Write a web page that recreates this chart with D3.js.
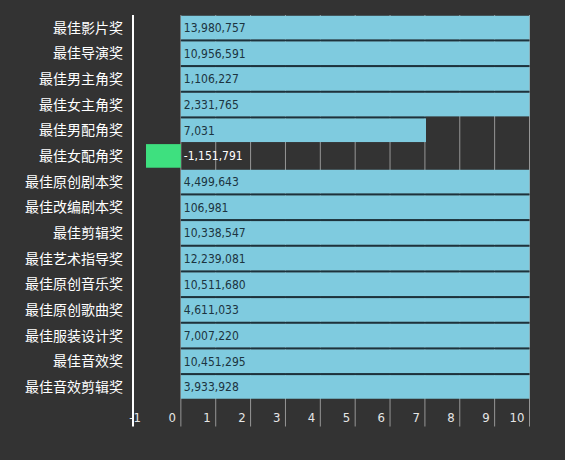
<!DOCTYPE html>
<html>
<head>
<meta charset="utf-8">
<script src="https://cdn.jsdelivr.net/npm/d3@7"></script>
<style>
  body { margin: 0; background: #333333; }
</style>
</head>
<body>
<script>
// award categories and their values (axis is in thousands)
var categories = ["最佳影片奖", "最佳导演奖", "最佳男主角奖", "最佳女主角奖", "最佳男配角奖",
  "最佳女配角奖", "最佳原创剧本奖", "最佳改编剧本奖", "最佳剪辑奖", "最佳艺术指导奖",
  "最佳原创音乐奖", "最佳原创歌曲奖", "最佳服装设计奖", "最佳音效奖", "最佳音效剪辑奖"];
var values = [13980757, 10956591, 1106227, 2331765, 7031, -1151791, 4499643, 106981,
  10338547, 12239081, 10511680, 4611033, 7007220, 10451295, 3933928];
var valueLabels = ["13,980,757", "10,956,591", "1,106,227", "2,331,765", "7,031", "-1,151,791",
  "4,499,643", "106,981", "10,338,547", "12,239,081", "10,511,680", "4,611,033",
  "7,007,220", "10,451,295", "3,933,928"];
var xTicks = [-1, 0, 1, 2, 3, 4, 5, 6, 7, 8, 9, 10];

var data = categories.map(function(c, i) {
  return {name: c, value: values[i], label: valueLabels[i]};
});

// set the dimensions and margins of the graph
var margin = {top: 15, right: 35.5, bottom: 60.5, left: 146},
width = 565 - margin.left - margin.right,
height = 460 - margin.top - margin.bottom;

var x = d3.scaleLinear()
.domain([-1, 10])
.range([0, width])
.clamp(true);

var y = d3.scaleBand()
.domain(categories)
.range([0, height])
.paddingInner(0.08)
.paddingOuter(0.03);

var svg = d3.select("body").append("svg")
.attr("width", 565)
.attr("height", 460)
.append("g")
.attr("transform", "translate(" + margin.left + "," + margin.top + ")");

// grid lines behind the bars
svg.selectAll(".grid")
.data(xTicks.filter(function(t) { return t >= 0; }))
.enter().append("line")
.attr("x1", function(d) { return x(d); })
.attr("x2", function(d) { return x(d); })
.attr("y1", 0)
.attr("y2", height + 27)
.attr("stroke", "#969696")
.attr("stroke-width", 1);

function barEnd(d) { return x(Math.max(0, d.value / 1000)); }

// dark separators between neighbouring positive bars
svg.selectAll(".sep")
.data(data.slice(1).filter(function(d, i) { return d.value > 0 && data[i].value > 0; }))
.enter().append("rect")
.attr("x", x(0))
.attr("y", function(d) { return y(d.name) - y.step() * y.paddingInner(); })
.attr("width", function(d) {
  var prev = data[categories.indexOf(d.name) - 1];
  return Math.min(barEnd(d), barEnd(prev)) - x(0);
})
.attr("height", y.step() * y.paddingInner())
.attr("fill", "#1d323c");

// bars (values in thousands on the axis)
svg.selectAll(".bar")
.data(data)
.enter().append("rect")
.attr("class", "bar")
.attr("x", function(d) { return x(Math.min(0, d.value / 1000)); })
.attr("width", function(d) { return Math.abs(x(d.value / 1000) - x(0)); })
.attr("y", function(d) { return y(d.name); })
.attr("height", y.bandwidth())
.attr("fill", function(d) { return d.value < 0 ? "#3ee07f" : "#7fcbdf"; });

// value labels
svg.selectAll(".val")
.data(data)
.enter().append("text")
.attr("x", x(0) + 3)
.attr("y", function(d) { return y(d.name) + y.bandwidth() / 2; })
.attr("dy", "0.36em")
.attr("font-family", "DejaVu Sans Condensed")
.attr("font-size", "12px")
.attr("fill", function(d) { return d.value < 0 ? "#ffffff" : "#1c3440"; })
.text(function(d) { return d.label; });

// x axis tick labels
svg.selectAll(".xlab")
.data(xTicks)
.enter().append("text")
.attr("x", function(d) { return x(d) - 5; })
.attr("y", height + 18)
.attr("dy", "0.36em")
.attr("text-anchor", "end")
.attr("font-family", "DejaVu Sans Condensed")
.attr("font-size", "13px")
.attr("fill", "#e6e6e6")
.text(function(d) { return d; });

// y axis line
svg.append("line")
.attr("x1", -13).attr("x2", -13)
.attr("y1", 0).attr("y2", height + 27)
.attr("stroke", "#ffffff")
.attr("stroke-width", 2);

// category labels
svg.selectAll(".cat")
.data(categories)
.enter().append("text")
.attr("x", -23)
.attr("y", function(d) { return y(d) + y.bandwidth() / 2; })
.attr("dy", "0.36em")
.attr("text-anchor", "end")
.attr("font-family", "Noto Sans CJK SC")
.attr("font-size", "14px")
.attr("fill", "#ffffff")
.text(function(d) { return d; });
</script>
</body>
</html>
